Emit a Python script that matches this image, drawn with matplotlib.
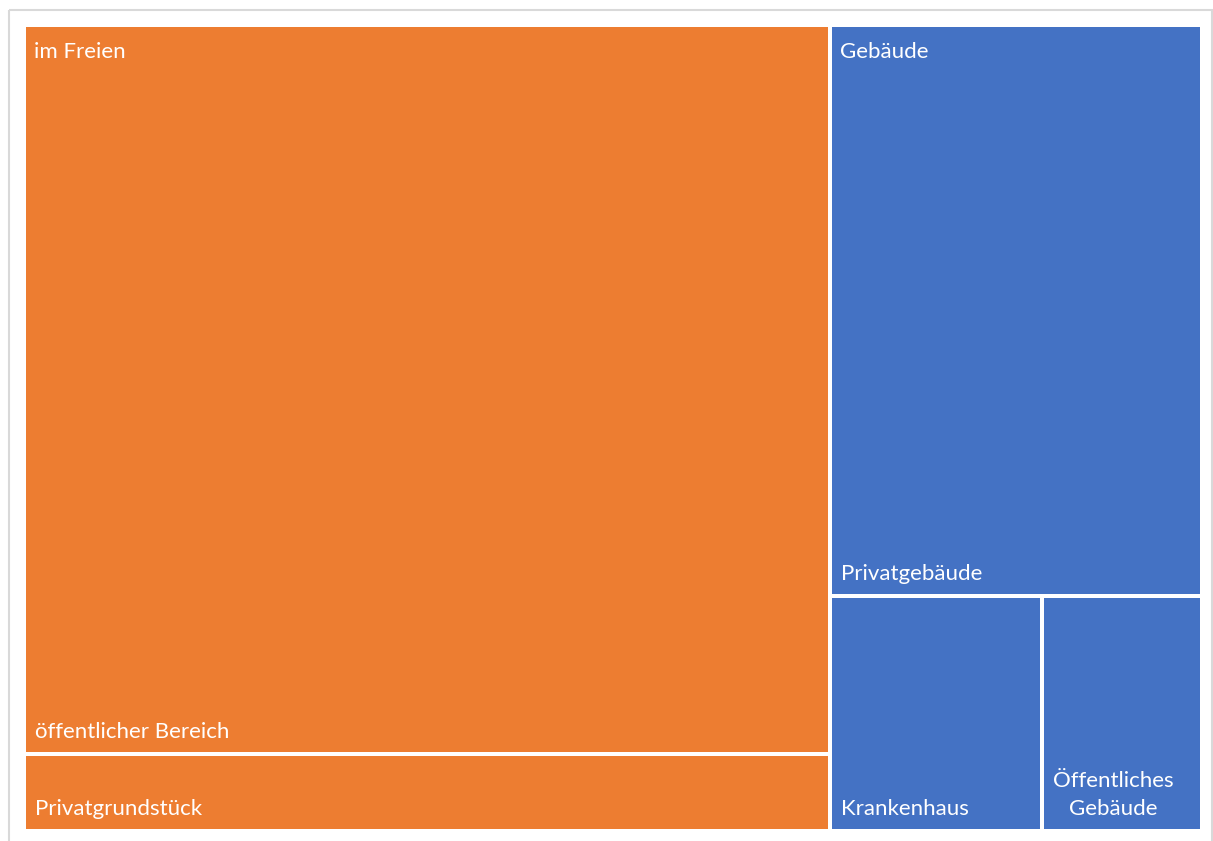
import matplotlib.pyplot as plt
from matplotlib.patches import Rectangle

# data
groups = ["im Freien", "Gebäude"]
group_colors = ["#ED7D31", "#4472C4"]
leaf_labels = [
    ["öffentlicher Bereich", "Privatgrundstück"],
    ["Privatgebäude", "Krankenhaus", "Öffentliches\nGebäude"],
]
leaf_values = [
    [6190, 650],
    [2240, 524, 396],
]

W_PX, H_PX = 1213, 841
GAP = 4
FONT = "Lato"
FS = 16


def worst(row, side):
    s = sum(row)
    thick = s / side
    r = 0
    for a in row:
        length = a / thick
        r = max(r, thick / length, length / thick)
    return r


def squarify(values, x, y, w, h):
    total = sum(values)
    areas = [v / total * w * h for v in values]
    rects = []
    while areas:
        horiz = w <= h * 1.1
        side = w if horiz else h
        row = [areas[0]]
        i = 1
        while i < len(areas) and worst(row + [areas[i]], side) <= worst(row, side):
            row.append(areas[i])
            i += 1
        thick = sum(row) / side
        pos = x if horiz else y
        for a in row:
            length = a / thick
            if horiz:
                rects.append((pos, y, length, thick))
            else:
                rects.append((x, pos, thick, length))
            pos += length
        if horiz:
            y += thick
            h -= thick
        else:
            x += thick
            w -= thick
        areas = areas[i:]
    return rects


fig = plt.figure(figsize=(W_PX / 100, H_PX / 100), dpi=100)
ax = fig.add_axes([0, 0, 1, 1])
ax.set_xlim(0, W_PX)
ax.set_ylim(H_PX, 0)
ax.axis("off")

# chart area border
ax.add_patch(Rectangle((8.5, 9.5), 1203, 840, facecolor="none",
                       edgecolor="#d9d9d9", lw=1.5))

group_totals = [sum(v) for v in leaf_values]
group_rects = squarify(group_totals, 24, 25, 1178, 806)

for gi, (gx, gy, gw, gh) in enumerate(group_rects):
    leaf_rects = squarify(leaf_values[gi], gx, gy, gw, gh)
    for li, (lx, ly, lw, lh) in enumerate(leaf_rects):
        ax.add_patch(Rectangle((lx + GAP / 2, ly + GAP / 2), lw - GAP, lh - GAP,
                               facecolor=group_colors[gi], edgecolor="none"))
        ax.text(lx + GAP / 2 + 9, ly + lh - GAP / 2 - 14, leaf_labels[gi][li],
                color="white", fontsize=FS, family=FONT, ha="left",
                va="baseline", multialignment="center", linespacing=1.5)
    ax.text(gx + GAP / 2 + 8, gy + GAP / 2 + 31, groups[gi], color="white",
            fontsize=FS, family=FONT, ha="left", va="baseline")

fig.savefig("out.png", dpi=100)
